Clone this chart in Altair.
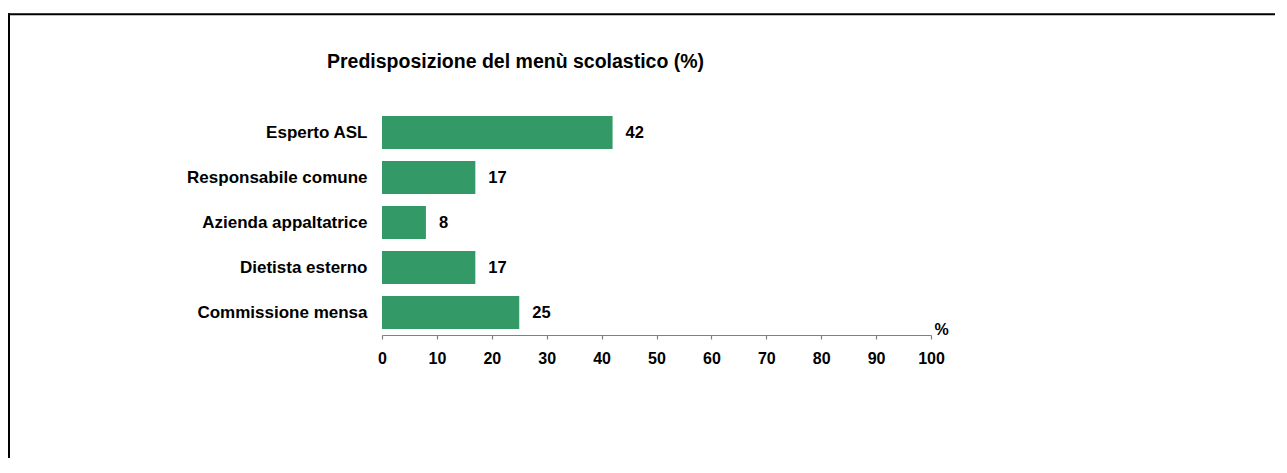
import altair as alt
import pandas as pd

categories = ["Esperto ASL", "Responsabile comune", "Azienda appaltatrice",
              "Dietista esterno", "Commissione mensa"]
values = [42, 17, 8, 17, 25]
x_ticks = [0, 10, 20, 30, 40, 50, 60, 70, 80, 90, 100]
title_text = "Predisposizione del menù scolastico (%)"
x_title = "%"

df = pd.DataFrame({"categoria": categories, "valore": values})
frame_df = pd.DataFrame({"k": [0]})

FONT = "Liberation Sans"
GREEN = "#339966"

y_enc = alt.Y(
    "categoria:N", sort=categories, title=None,
    scale=alt.Scale(paddingInner=0.27, paddingOuter=0.135),
    axis=alt.Axis(ticks=False, domain=False, labelFont=FONT, labelFontSize=17,
                  labelFontWeight="bold", labelColor="black", labelPadding=15,
                  labelLimit=400),
)
x_enc = alt.X(
    "valore:Q", title=x_title,
    scale=alt.Scale(domain=[0, 100], nice=False),
    axis=alt.Axis(values=x_ticks, grid=False, domainColor="#808080",
                  domainWidth=1.2, tickColor="#808080", tickWidth=1.2,
                  tickSize=4, labelFont=FONT, labelFontSize=16,
                  labelFontWeight="bold", labelColor="black", labelPadding=11,
                  labelFlush=False, titleFont=FONT, titleFontSize=16,
                  titleFontWeight="bold", titleColor="black", titleX=552,
                  titleY=-1, titleAlign="left", titleBaseline="alphabetic",
                  titleAngle=0),
)

bars = alt.Chart(df).mark_bar(color=GREEN).encode(x=x_enc, y=y_enc)

labels = alt.Chart(df).mark_text(
    align="left", baseline="middle", dx=13, font=FONT, fontSize=16.5,
    fontWeight="bold", color="black"
).encode(x="valore:Q", y=alt.Y("categoria:N", sort=categories), text="valore:Q")

frame_top = alt.Chart(frame_df).mark_rule(color="black", strokeWidth=2).encode(
    x=alt.value(-374), x2=alt.value(1000), y=alt.value(-95.7)
)
frame_left = alt.Chart(frame_df).mark_rule(color="black", strokeWidth=2).encode(
    x=alt.value(-373), y=alt.value(-96.7), y2=alt.value(400)
)

chart = alt.layer(bars, labels, frame_top, frame_left).properties(
    width=549,
    height=225,
    background="white",
    title=alt.TitleParams(title_text, anchor="start", frame="group", dx=-55,
                          offset=-75, font=FONT, fontSize=19.5,
                          fontWeight="bold", color="black",
                          baseline="alphabetic"),
    autosize=alt.AutoSizeParams(type="none"),
    padding={"left": 374, "top": 102, "right": 344, "bottom": 123},
).configure_view(strokeWidth=0)

chart.save("out.html", embed_options={"renderer": "svg", "actions": False})
